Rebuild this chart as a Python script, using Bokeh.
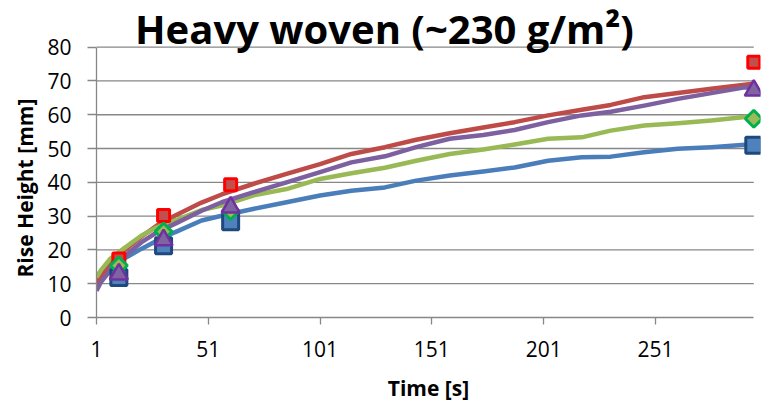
import numpy as np
from bokeh.plotting import figure
from bokeh.models import Range1d, FixedTicker, Label, Title
from bokeh.embed import file_html
from bokeh.resources import INLINE

# ---- texts ----
TITLE = "Heavy woven (~230 g/m²)"
X_LABEL = "Time [s]"
Y_LABEL = "Rise Height [mm]"

# ---- ticks ----
x_ticks = [1, 51, 101, 151, 201, 251]
y_ticks = [0, 10, 20, 30, 40, 50, 60, 70, 80]

# ---- measured rise curves (time in s, height in mm) ----
curve_t = [1, 3, 7, 13, 21, 28, 36, 48, 57, 71, 86, 101, 115, 130, 144, 159,
           174, 188, 203, 218, 231, 246, 261, 276, 291, 295]
red_curve = [9.9, 12.3, 16.3, 19.6, 23.9, 27.2, 30.1, 34.0, 36.4, 39.5, 42.5,
             45.4, 48.4, 50.4, 52.6, 54.5, 56.2, 57.8, 59.8, 61.5, 62.9, 65.2,
             66.4, 67.7, 68.9, 69.2]
purple_curve = [7.9, 10.5, 13.8, 17.8, 22.2, 25.2, 27.7, 31.6, 34.1, 37.0,
                40.0, 43.0, 45.9, 47.7, 50.4, 52.9, 54.0, 55.5, 57.8, 59.8,
                60.9, 62.7, 64.7, 66.4, 68.1, 67.8]
green_curve = [11.9, 14.0, 17.3, 20.3, 24.2, 26.7, 28.7, 31.8, 33.1, 36.1,
               38.0, 41.0, 42.7, 44.3, 46.4, 48.4, 49.7, 51.2, 52.9, 53.3,
               55.3, 56.8, 57.5, 58.3, 59.3, 59.4]
blue_curve = [9.5, 12.0, 14.5, 17.3, 20.3, 22.7, 25.2, 28.7, 30.1, 32.1, 34.1,
              36.1, 37.5, 38.5, 40.5, 42.0, 43.2, 44.4, 46.4, 47.4, 47.6,
              48.9, 49.9, 50.4, 51.1, 51.2]

# ---- discrete readings ----
marker_t = [11, 31, 61, 295]
red_pts = [17.3, 30.2, 39.3, 75.5]
blue_pts = [11.8, 21.2, 28.3, 51.0]
green_pts = [15.4, 25.4, 31.5, 58.8]
purple_pts = [12.8, 22.9, 32.6, 67.2]

FONT = "Open Sans"
AXIS_GREY = "#878787"
x_end = curve_t[-1]
y_top = y_ticks[-1]

# the frame reaches the top edge so the heading can sit inside it
p = figure(width=761, height=405, output_backend="svg", toolbar_location=None,
           x_range=Range1d(1, 298), y_range=Range1d(0, 93.8),
           min_border_left=96, min_border_right=1,
           min_border_top=0, min_border_bottom=88)
p.outline_line_color = None
p.xgrid.visible = False
p.ygrid.visible = False

# horizontal gridlines, ending where the time axis ends
p.segment(x0=[1] * (len(y_ticks) - 1), x1=[x_end] * (len(y_ticks) - 1),
          y0=y_ticks[1:], y1=y_ticks[1:], line_color=AXIS_GREY, line_width=1.3)

# curves
p.line(curve_t, blue_curve, line_color="#4A7EBB", line_width=4.5, line_join="round")
p.line(curve_t, red_curve, line_color="#BE4B48", line_width=4.5, line_join="round")
p.line(curve_t, green_curve, line_color="#98B954", line_width=4.5, line_join="round")
p.line(curve_t, purple_curve, line_color="#7D60A0", line_width=4.5, line_join="round")

# point readings
p.scatter(marker_t, red_pts, marker="square", size=12, fill_color="#C0504D",
          line_color="#FF0000", line_width=3)
p.scatter(marker_t, blue_pts, marker="square", size=16, fill_color="#4F81BD",
          line_color="#1F497D", line_width=3)
p.scatter(marker_t, green_pts, marker="square", size=12, angle=np.pi / 4,
          fill_color="#9BBB59", line_color="#00B050", line_width=3)
p.scatter(marker_t, purple_pts, marker="triangle", size=18, fill_color="#8064A2",
          line_color="#7030A0", line_width=2.5)

# axes
for ax in (p.xaxis[0], p.yaxis[0]):
    ax.axis_line_color = AXIS_GREY
    ax.axis_line_width = 1.3
    ax.major_tick_line_color = AXIS_GREY
    ax.major_tick_line_width = 1.3
    ax.major_tick_in = 0
    ax.minor_tick_line_color = None
    ax.major_label_text_font = FONT
    ax.major_label_text_font_size = "21px"
    ax.major_label_text_color = "black"
    ax.axis_label_text_font = FONT
    ax.axis_label_text_font_style = "bold"
    ax.axis_label_text_font_size = "21px"
    ax.axis_label_text_color = "black"

p.xaxis.ticker = FixedTicker(ticks=x_ticks)
p.xaxis.bounds = (1, x_end)
p.xaxis.major_tick_out = 7
p.xaxis.major_label_standoff = 16
p.xaxis.axis_label = X_LABEL
p.xaxis.axis_label_standoff = 14

p.yaxis.ticker = FixedTicker(ticks=y_ticks)
p.yaxis.bounds = (0, y_top)
p.yaxis.major_tick_out = 9
p.yaxis.major_label_standoff = 16

# vertical axis title, started from the bottom of the value axis
p.add_layout(Title(text=Y_LABEL, text_font=FONT, text_font_style="bold",
                   text_font_size="21px", text_color="black",
                   text_line_height=0.8,
                   align="left", offset=40, standoff=12), "left")

# chart heading
p.add_layout(Label(x=129.8, y=85.5, text=TITLE, text_font=FONT,
                   text_font_style="bold", text_font_size="40px",
                   text_align="center", text_baseline="alphabetic",
                   text_color="black"))

open("out.html", "w").write(file_html(p, INLINE))
